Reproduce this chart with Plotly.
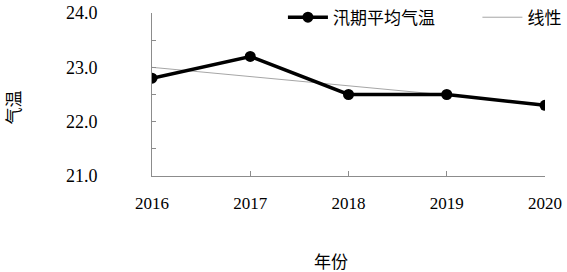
import numpy as np
import plotly.graph_objects as go

years = [2016, 2017, 2018, 2019, 2020]
temps = [22.8, 23.2, 22.5, 22.5, 22.3]
series_name = "汛期平均气温"
trend_name = "线性"
y_tickvals = [21.0, 21.5, 22.0, 22.5, 23.0, 23.5, 24.0]
y_ticktext = ["21.0", "", "22.0", "", "23.0", "", "24.0"]
x_title = "年份"
y_title = "气温"

# linear trendline (least squares fit of the data)
coef = np.polyfit(years, temps, 1)
trend = list(np.polyval(coef, years))

serif = "'Liberation Serif', 'DejaVu Serif', serif"
cjk = "'Noto Sans CJK SC'"

fig = go.Figure()
fig.add_trace(go.Scatter(
    x=years, y=trend, name=trend_name, mode="lines",
    line=dict(color="#a6a6a6", width=1), legend="legend2",
))
fig.add_trace(go.Scatter(
    x=years, y=temps, name=series_name, mode="lines+markers",
    line=dict(color="black", width=3.5),
    marker=dict(color="black", size=11), legend="legend",
))

leg_common = dict(
    orientation="h", yanchor="middle", xanchor="left",
    xref="container", yref="container",
    font=dict(family=cjk, size=17, color="black"),
    bgcolor="rgba(0,0,0,0)", itemwidth=40,
)
fig.update_layout(
    width=567, height=272,
    margin=dict(l=152, r=22, t=13, b=96, autoexpand=False),
    paper_bgcolor="white", plot_bgcolor="white",
    showlegend=True,
    legend=dict(x=0.499, y=0.935, **leg_common),
    legend2=dict(x=0.842, y=0.935, **leg_common),
    annotations=[
        dict(text=x_title, x=0.455, y=-0.52, xref="paper", yref="paper",
             showarrow=False, font=dict(family=cjk, size=17, color="black"),
             xanchor="center", yanchor="middle"),
        dict(text=y_title, x=-0.355, y=0.423, xref="paper", yref="paper",
             showarrow=False, textangle=-90,
             font=dict(family=cjk, size=17, color="black"),
             xanchor="center", yanchor="middle"),
    ],
)
fig.update_xaxes(
    range=[2016, 2020], tickvals=years, ticktext=[str(y) for y in years],
    showgrid=False, zeroline=False, showline=True, linecolor="#8c8c8c",
    linewidth=1, ticks="inside", ticklen=5, tickcolor="#8c8c8c",
    tickfont=dict(family=serif, size=17, color="black"),
    ticklabelstandoff=12, automargin=False,
)
fig.update_yaxes(
    range=[21.0, 24.0], tickvals=y_tickvals, ticktext=y_ticktext,
    showgrid=False, zeroline=False, showline=True, linecolor="#8c8c8c",
    linewidth=1, ticks="inside", ticklen=4, tickcolor="#8c8c8c",
    tickfont=dict(family=serif, size=18, color="black"),
    ticklabelstandoff=50, automargin=False,
)
fig.write_html(
    "out.html",
    config={"displayModeBar": False},
    post_script="document.body.style.margin='0';document.body.style.overflow='hidden';",
)
